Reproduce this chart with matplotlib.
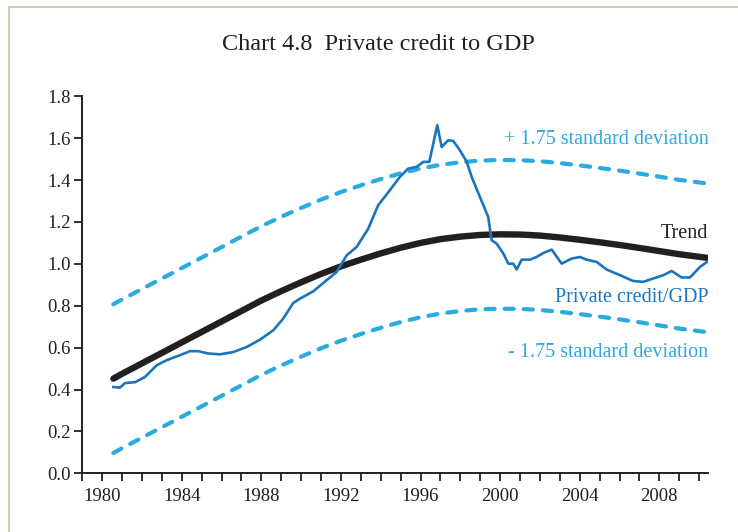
import matplotlib
matplotlib.use("Agg")
import matplotlib.pyplot as plt
from matplotlib.lines import Line2D

# ---------------- data ----------------
credit_years = [1980.56, 1980.89, 1981.15, 1981.65, 1982.15, 1982.74, 1983.24, 1983.91,
                1984.41, 1984.83, 1985.33, 1985.92, 1986.59, 1987.26, 1987.93, 1988.60,
                1989.10, 1989.60, 1989.94, 1990.61, 1991.28, 1991.78, 1992.29, 1992.79,
                1993.37, 1993.87, 1994.46, 1994.96, 1995.38, 1995.80, 1996.14, 1996.44,
                1996.84, 1997.06, 1997.39, 1997.64, 1997.98, 1998.32, 1998.57, 1998.98,
                1999.40, 1999.57, 1999.82, 2000.16, 2000.41, 2000.66, 2000.83, 2001.08,
                2001.50, 2001.83, 2002.17, 2002.59, 2003.09, 2003.59, 2004.01, 2004.35,
                2004.85, 2005.35, 2006.02, 2006.69, 2007.19, 2007.69, 2008.20, 2008.62,
                2009.12, 2009.54, 2010.04, 2010.46]
credit_values = [0.412, 0.409, 0.431, 0.435, 0.460, 0.516, 0.540, 0.564,
                 0.583, 0.583, 0.572, 0.568, 0.579, 0.603, 0.638, 0.683,
                 0.739, 0.813, 0.834, 0.869, 0.922, 0.961, 1.041, 1.081,
                 1.168, 1.280, 1.352, 1.415, 1.455, 1.463, 1.487, 1.487,
                 1.662, 1.558, 1.590, 1.587, 1.542, 1.487, 1.415, 1.320,
                 1.224, 1.113, 1.097, 1.049, 1.001, 1.001, 0.973, 1.020,
                 1.020, 1.033, 1.052, 1.068, 1.001, 1.025, 1.033, 1.020,
                 1.009, 0.973, 0.946, 0.918, 0.914, 0.930, 0.946, 0.966,
                 0.935, 0.935, 0.985, 1.014]

trend_years = [1980.56, 1981, 1982, 1983, 1984, 1985, 1986, 1987, 1988, 1989,
               1990, 1991, 1992, 1993, 1994, 1995, 1996, 1997, 1998, 1999,
               2000, 2001, 2002, 2003, 2004, 2005, 2006, 2007, 2008, 2009, 2010.46]
trend_values = [0.452, 0.475, 0.525, 0.575, 0.625, 0.675, 0.725, 0.775, 0.825, 0.870,
                0.912, 0.952, 0.988, 1.020, 1.050, 1.077, 1.100, 1.118, 1.130, 1.138,
                1.141, 1.140, 1.135, 1.126, 1.115, 1.103, 1.090, 1.076, 1.061, 1.046, 1.028]
upper_values = [0.807, 0.830, 0.880, 0.930, 0.980, 1.030, 1.080, 1.130, 1.180, 1.225,
                1.267, 1.307, 1.343, 1.375, 1.405, 1.432, 1.455, 1.473, 1.485, 1.493,
                1.496, 1.495, 1.490, 1.481, 1.470, 1.458, 1.445, 1.431, 1.416, 1.401, 1.383]
lower_values = [0.097, 0.120, 0.170, 0.220, 0.270, 0.320, 0.370, 0.420, 0.470, 0.515,
                0.557, 0.597, 0.633, 0.665, 0.695, 0.722, 0.745, 0.763, 0.775, 0.783,
                0.786, 0.785, 0.780, 0.771, 0.760, 0.748, 0.735, 0.721, 0.706, 0.691, 0.673]

year_labels = [1980, 1984, 1988, 1992, 1996, 2000, 2004, 2008]
minor_years = list(range(1979, 2011))
y_ticks = [0.0, 0.2, 0.4, 0.6, 0.8, 1.0, 1.2, 1.4, 1.6, 1.8]

title = "Chart 4.8  Private credit to GDP"
label_upper = "+ 1.75 standard deviation"
label_trend = "Trend"
label_credit = "Private credit/GDP"
label_lower = "- 1.75 standard deviation"

# ---------------- styling ----------------
SERIF = ["Liberation Serif", "DejaVu Serif"]
plt.rcParams["font.family"] = SERIF
LIGHT = "#29ABE2"
MID = "#1B75BC"
BLACK = "#231F20"

fig = plt.figure(figsize=(7.38, 5.32), dpi=100)
ax = fig.add_axes([82.3 / 738, 1 - 473.3 / 532, (708.3 - 82.3) / 738, (473.3 - 96.3) / 532])

dash_kw = dict(color=LIGHT, lw=3.0, dashes=(2.2, 2.4), dash_capstyle="round",
               solid_capstyle="round")
ax.plot(trend_years, upper_values, **dash_kw)
ax.plot(trend_years, lower_values, **dash_kw)
ax.plot(trend_years, trend_values, color=BLACK, lw=4.6, solid_capstyle="round",
        solid_joinstyle="round")
ax.plot(credit_years, credit_values, color=MID, lw=1.9, solid_joinstyle="round")

ax.set_xlim(1979, 2010.46)
ax.set_ylim(0, 1.8)
ax.set_xticks(year_labels)
ax.set_xticklabels([str(y) for y in year_labels])
ax.set_xticks(minor_years, minor=True)
ax.set_yticks(y_ticks)
ax.set_yticklabels([f"{v:.1f}" for v in y_ticks])

for s in ["top", "right"]:
    ax.spines[s].set_visible(False)
for s in ["left", "bottom"]:
    ax.spines[s].set_linewidth(1.4)
    ax.spines[s].set_color(BLACK)
ax.tick_params(axis="x", which="both", direction="out", length=5.5, width=1.3,
               color=BLACK, labelsize=13.5, pad=5, labelcolor=BLACK)
ax.tick_params(axis="y", which="major", direction="out", length=5.5, width=1.3,
               color=BLACK, labelsize=13.5, pad=3, labelcolor=BLACK)

tx = 2010.46
fs = 14.5
ax.text(tx, 1.592, label_upper, color=LIGHT, ha="right", va="center", fontsize=fs)
ax.text(tx, 1.143, label_trend, color=BLACK, ha="right", va="center", fontsize=fs)
ax.text(tx, 0.838, label_credit, color=MID, ha="right", va="center", fontsize=fs)
ax.text(tx, 0.579, label_lower, color=LIGHT, ha="right", va="center", fontsize=fs)

fig.text(378 / 738, 1 - 45 / 532, title, ha="center", va="center", fontsize=17.5, color=BLACK)

# frame lines (top and left border of the page box)
fig.add_artist(Line2D([9 / 738, 1], [1 - 7 / 532, 1 - 7 / 532], color="#CFC9A8", lw=1.3,
                      transform=fig.transFigure))
fig.add_artist(Line2D([9 / 738, 9 / 738], [0, 1 - 7 / 532], color="#CFC9A8", lw=1.3,
                      transform=fig.transFigure))

fig.savefig("out.png", dpi=100)
